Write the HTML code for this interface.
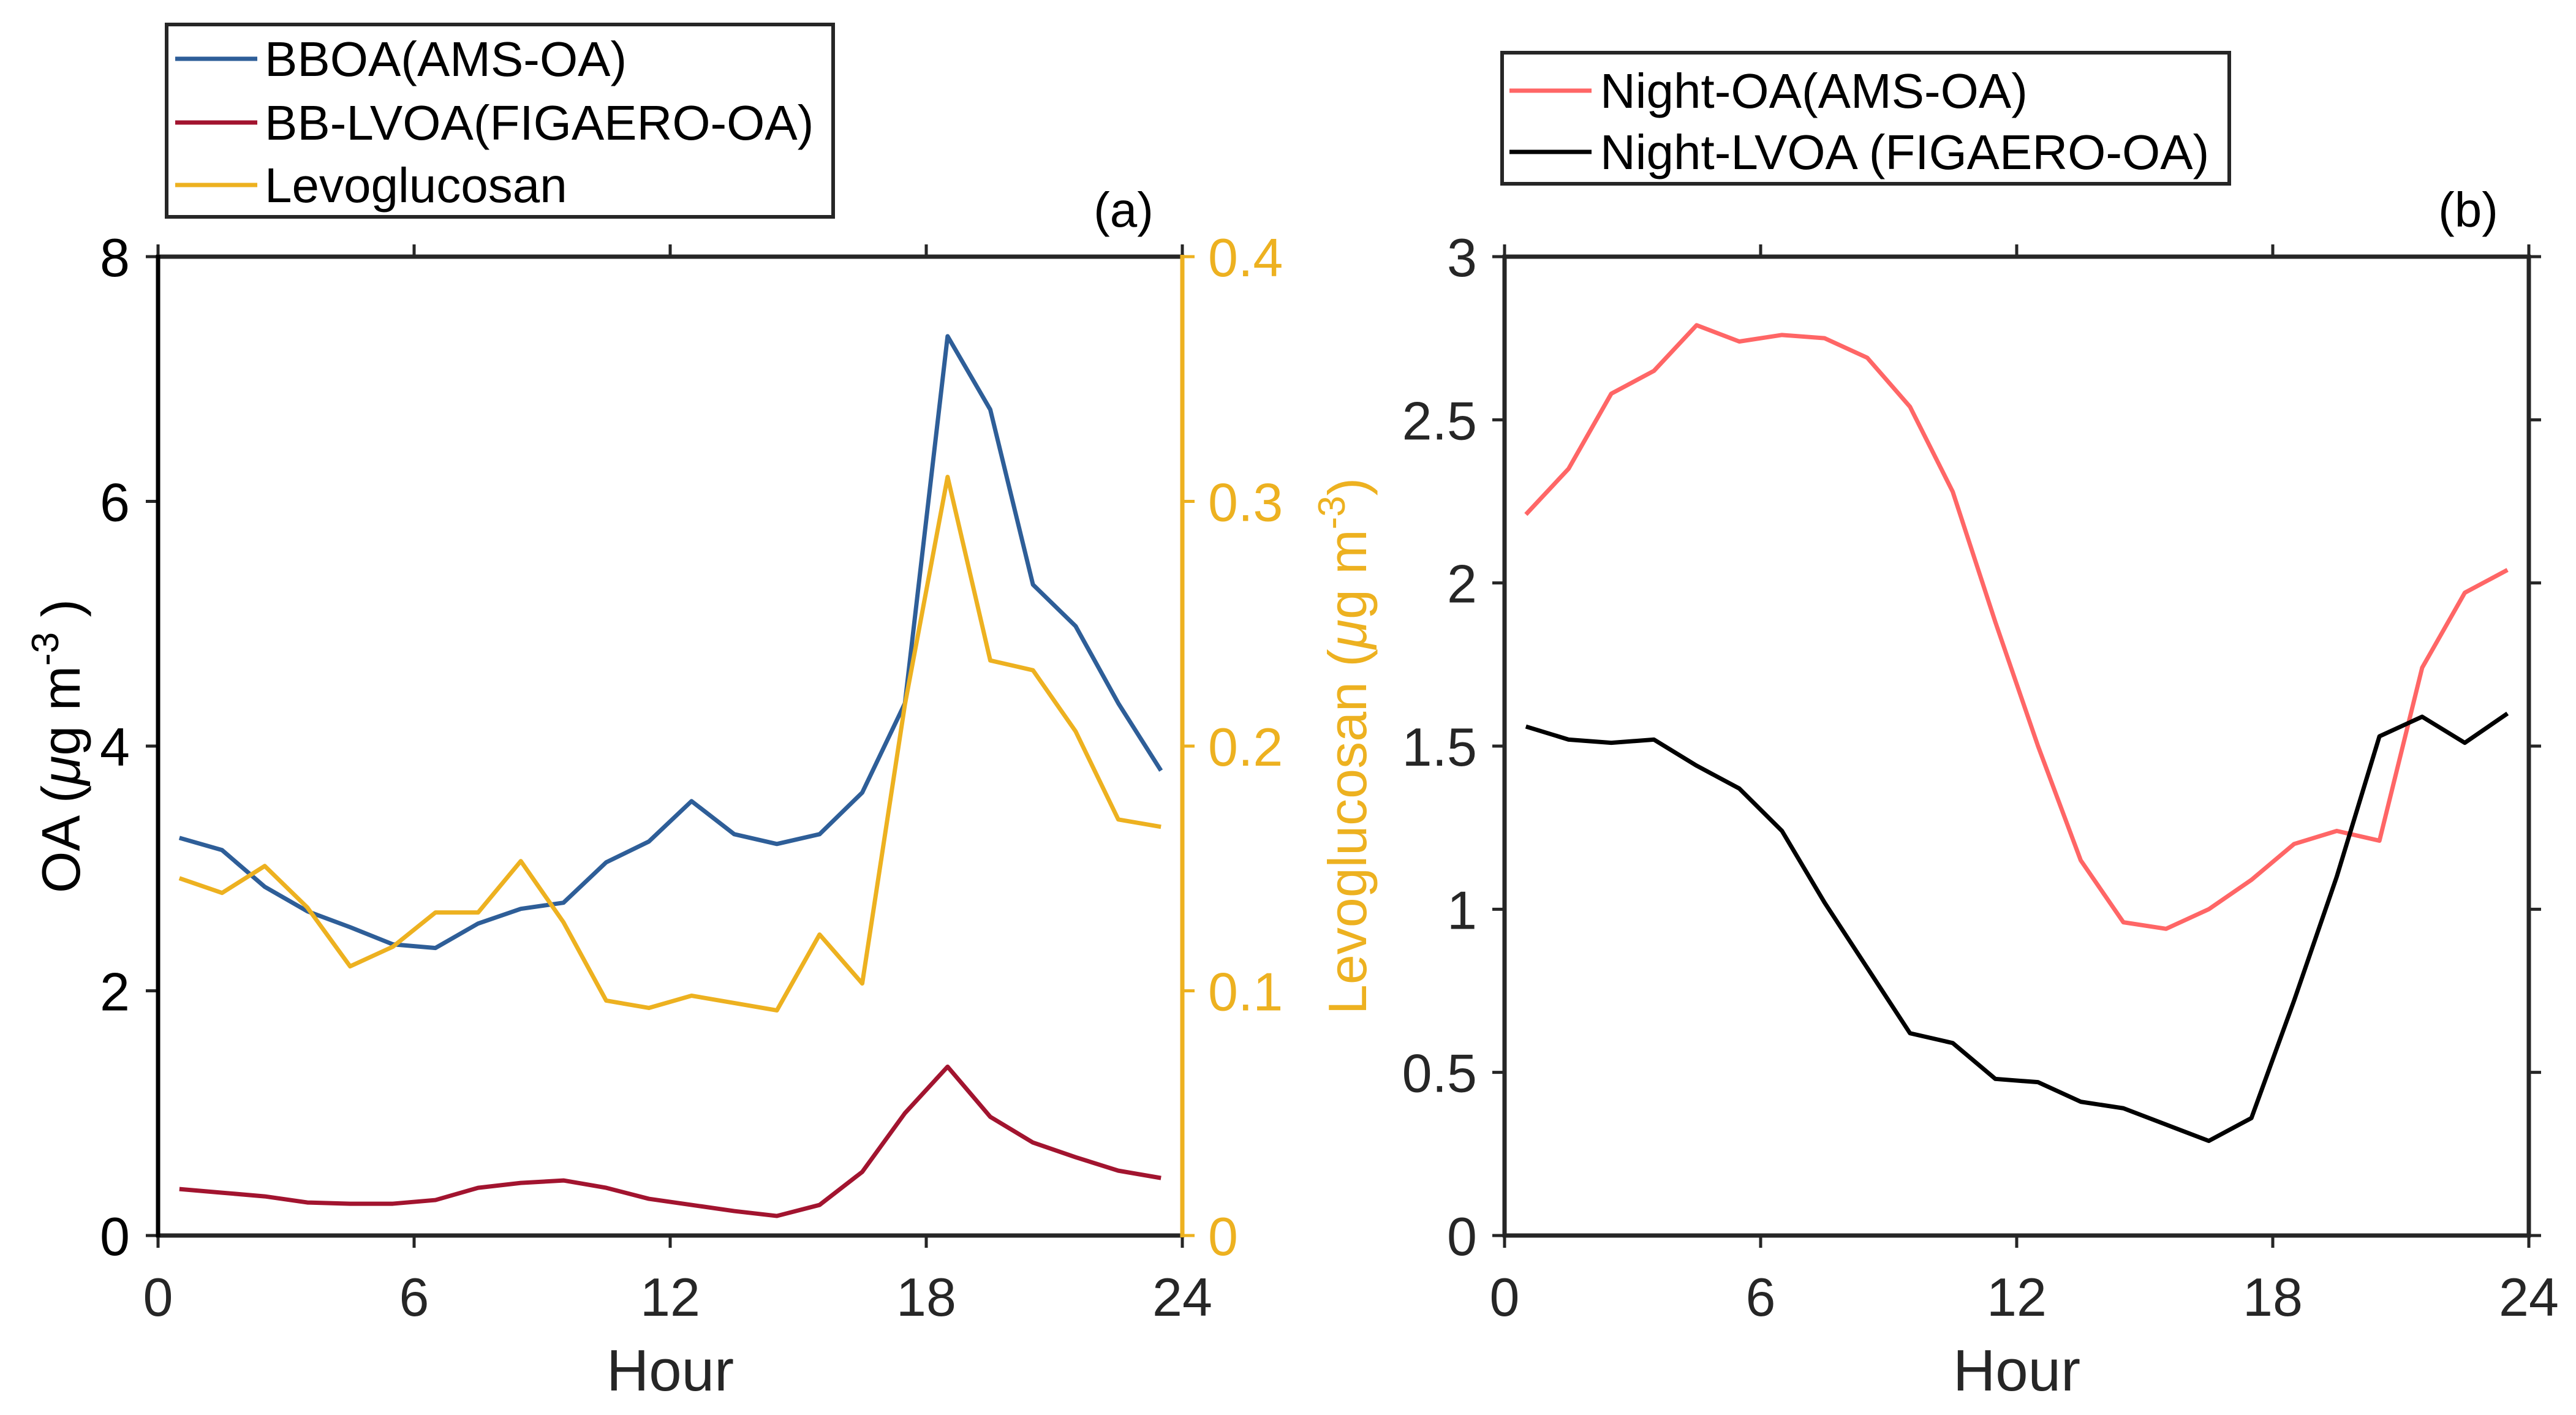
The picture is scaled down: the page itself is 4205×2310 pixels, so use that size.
<!DOCTYPE html>
<html><head><meta charset="utf-8"><style>
body{margin:0;background:#fff}
svg{display:block;font-family:"Liberation Sans",Arial,sans-serif}
</style></head><body>
<svg id="chart" width="4205" height="2310" viewBox="0 0 4205 2310" xmlns="http://www.w3.org/2000/svg"></svg>
<script>
const hours = [0.5,1.5,2.5,3.5,4.5,5.5,6.5,7.5,8.5,9.5,10.5,11.5,12.5,13.5,14.5,15.5,16.5,17.5,18.5,19.5,20.5,21.5,22.5,23.5];
const bboa = [3.25,3.15,2.85,2.65,2.52,2.38,2.35,2.55,2.67,2.72,3.05,3.22,3.55,3.28,3.2,3.28,3.62,4.35,7.35,6.75,5.32,4.98,4.35,3.8];
const bblvoa = [0.38,0.35,0.32,0.27,0.26,0.26,0.29,0.39,0.43,0.45,0.39,0.30,0.25,0.20,0.16,0.25,0.52,1.0,1.38,0.97,0.76,0.64,0.53,0.47];
const levo = [0.146,0.140,0.151,0.134,0.110,0.118,0.132,0.132,0.153,0.128,0.096,0.093,0.098,0.095,0.092,0.123,0.103,0.217,0.310,0.235,0.231,0.206,0.170,0.167];
const nightOA = [2.21,2.35,2.58,2.65,2.79,2.74,2.76,2.75,2.69,2.54,2.28,1.88,1.50,1.15,0.96,0.94,1.00,1.09,1.20,1.24,1.21,1.74,1.97,2.04];
const nightLVOA = [1.56,1.52,1.51,1.52,1.44,1.37,1.24,1.02,0.82,0.62,0.59,0.48,0.47,0.41,0.39,0.34,0.29,0.36,0.72,1.10,1.53,1.59,1.51,1.60];
const xTicks = [0,6,12,18,24];
const leftTicksA = [0,2,4,6,8];
const rightTicksA = [0,0.1,0.2,0.3,0.4];
const ticksB = [0,0.5,1,1.5,2,2.5,3];
const tickLabelsB = ["0","0.5","1","1.5","2","2.5","3"];

const svg = document.getElementById('chart');
const NS = 'http://www.w3.org/2000/svg';
function mk(tag, attrs, parent){const e=document.createElementNS(NS,tag);for(const k in attrs)e.setAttribute(k,attrs[k]);(parent||svg).appendChild(e);return e;}
const AX='#262626', T=88;
const yTop=419, yBot=2017;

function panel(x0,x1,ymax){
  const sx=v=>x0+(v/24)*(x1-x0);
  const sy=v=>yBot-(v/ymax)*(yBot-yTop);
  return {sx,sy,x0,x1};
}
const A = panel(258,1930,8);
const syA2 = v=>yBot-(v/0.4)*(yBot-yTop);
const B = panel(2456,4128,3);

function xAxis(P){
  for(const t of xTicks){
    const x=P.sx(t);
    let l=mk('line',{x1:x,y1:yBot,x2:x,y2:yBot+20,stroke:AX,'stroke-width':5});
    
    
    l=mk('line',{x1:x,y1:yTop,x2:x,y2:yTop-20,stroke:AX,'stroke-width':5});
    
    
    const tx=mk('text',{x:x,y:2148,'font-size':T,'text-anchor':'middle',fill:AX});
    tx.textContent=t;
    
    
  }
  const h=mk('text',{x:(P.x0+P.x1)/2,y:2270,'font-size':96,'text-anchor':'middle',fill:AX});
  h.textContent='Hour';
  
  
  let l=mk('line',{x1:P.x0-3,y1:yBot,x2:P.x1+3,y2:yBot,stroke:AX,'stroke-width':7});
  
  
  l=mk('line',{x1:P.x0-3,y1:yTop,x2:P.x1+3,y2:yTop,stroke:AX,'stroke-width':7});
  
  
}
function series(P,sy,vals,color,name){
  const pts=hours.map((h,i)=>P.sx(h)+','+sy(vals[i])).join(' ');
  const p=mk('polyline',{points:pts,fill:'none',stroke:color,'stroke-width':7,'stroke-linejoin':'round'});
  
  
}

// Panel A
xAxis(A);
for(const t of leftTicksA){
  const y=A.sy(t);
  const l=mk('line',{x1:A.x0,y1:y,x2:A.x0-20,y2:y,stroke:AX,'stroke-width':5});
  
  
  const tx=mk('text',{x:212,y:y+32,'font-size':T,'text-anchor':'end',fill:'#000'});
  tx.textContent=t;
  
  
}
for(const t of rightTicksA){
  const y=syA2(t);
  const l=mk('line',{x1:A.x1,y1:y,x2:A.x1+20,y2:y,stroke:'#EDB120','stroke-width':5});
  
  
  const tx=mk('text',{x:1972,y:y+32,'font-size':T,'text-anchor':'start',fill:'#EDB120'});
  tx.textContent=t;
  
  
}
{
let l=mk('line',{x1:A.x0,y1:yTop-3,x2:A.x0,y2:yBot+3,stroke:'#000','stroke-width':7});


l=mk('line',{x1:A.x1,y1:yTop-3,x2:A.x1,y2:yBot+3,stroke:'#EDB120','stroke-width':7});


}
series(A,A.sy,bboa,'#2E5E98','line-bboa');
series(A,A.sy,bblvoa,'#A2142F','line-bb-lvoa');
series(A,syA2,levo,'#EDB120','line-levoglucosan');

// Panel B
xAxis(B);
for(let i=0;i<ticksB.length;i++){
  const y=B.sy(ticksB[i]);
  let l=mk('line',{x1:B.x0,y1:y,x2:B.x0-20,y2:y,stroke:AX,'stroke-width':5});
  
  
  l=mk('line',{x1:B.x1,y1:y,x2:B.x1+20,y2:y,stroke:AX,'stroke-width':5});
  
  
  const tx=mk('text',{x:2411,y:y+32,'font-size':T,'text-anchor':'end',fill:AX});
  tx.textContent=tickLabelsB[i];
  
  
}
{
let l=mk('line',{x1:B.x0,y1:yTop-3,x2:B.x0,y2:yBot+3,stroke:AX,'stroke-width':7});


l=mk('line',{x1:B.x1,y1:yTop-3,x2:B.x1,y2:yBot+3,stroke:AX,'stroke-width':7});


}
series(B,B.sy,nightOA,'#FF6666','line-night-oa');
series(B,B.sy,nightLVOA,'#000000','line-night-lvoa');
</script>
<svg style="position:absolute;left:0;top:0" width="4205" height="2310" font-family="Liberation Sans, Arial, sans-serif">
  <text transform="translate(130,1218) rotate(-90)" font-size="88" text-anchor="middle" fill="#000">OA (<tspan font-style="italic">μ</tspan>g m<tspan dy="-35" font-size="62">-3</tspan><tspan dy="35"> )</tspan></text>
  <text transform="translate(2230,1218) rotate(-90)" font-size="88" text-anchor="middle" fill="#EDB120">Levoglucosan (<tspan font-style="italic">μ</tspan>g m<tspan dy="-35" font-size="62">-3</tspan><tspan dy="35">)</tspan></text>
  <text x="1834" y="370" font-size="80" text-anchor="middle" fill="#000">(a)</text>
  <text x="4029" y="370" font-size="80" text-anchor="middle" fill="#000">(b)</text>
  <g>
    <rect x="272" y="40" width="1088" height="314" fill="#fff" stroke="#262626" stroke-width="6"/>
    <line x1="286" y1="96" x2="420" y2="96" stroke="#2E5E98" stroke-width="7"/>
    <text x="432" y="124" font-size="80" fill="#000">BBOA(AMS-OA)</text>
    <line x1="286" y1="200" x2="420" y2="200" stroke="#A2142F" stroke-width="7"/>
    <text x="432" y="228" font-size="80" fill="#000">BB-LVOA(FIGAERO-OA)</text>
    <line x1="286" y1="302" x2="420" y2="302" stroke="#EDB120" stroke-width="7"/>
    <text x="432" y="330" font-size="80" fill="#000">Levoglucosan</text>
  </g>
  <g>
    <rect x="2452" y="86" width="1187" height="214" fill="#fff" stroke="#262626" stroke-width="6"/>
    <line x1="2464" y1="148" x2="2598" y2="148" stroke="#FF6666" stroke-width="7"/>
    <text x="2612" y="176" font-size="80" fill="#000">Night-OA(AMS-OA)</text>
    <line x1="2464" y1="248" x2="2598" y2="248" stroke="#000" stroke-width="7"/>
    <text x="2612" y="276" font-size="80" fill="#000">Night-LVOA (FIGAERO-OA)</text>
  </g>
</svg>
</body></html>
